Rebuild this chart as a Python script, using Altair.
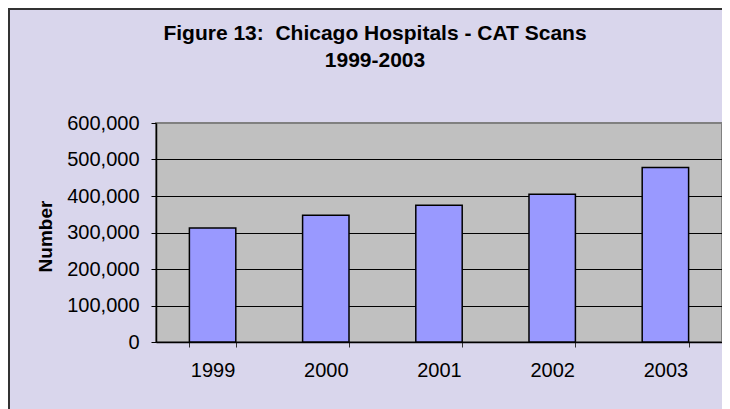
import altair as alt
import pandas as pd

years = ["1999", "2000", "2001", "2002", "2003"]
scans = [312000, 347000, 375000, 405000, 478000]
y_ticks = [0, 100000, 200000, 300000, 400000, 500000, 600000]
title_lines = ["Figure 13:\u00a0 Chicago Hospitals - CAT Scans", "1999-2003"]
y_title = "Number"

df = pd.DataFrame({"Year": years, "Scans": scans})

FONT = "Liberation Sans"
W, H = 566, 219
PAD = {"left": 148, "top": 115, "right": 0, "bottom": 67}

frame_left = alt.Chart(alt.Data(values=[{}])).mark_rule(
    color="#333333", strokeWidth=2
).encode(x=alt.value(-147), y=alt.value(-114), y2=alt.value(H + PAD["bottom"]))

frame_top = alt.Chart(alt.Data(values=[{}])).mark_rule(
    color="#333333", strokeWidth=2
).encode(y=alt.value(-114), x=alt.value(-148), x2=alt.value(W + PAD["right"]))

bars = alt.Chart(df).mark_bar(
    color="#9999FF", stroke="#000000", strokeWidth=1.5
).encode(
    x=alt.X("Year:N", sort=years, title=None,
            scale=alt.Scale(paddingInner=0.59, paddingOuter=0.295),
            axis=alt.Axis(labelAngle=0, tickBand="extent", tickSize=5,
                          tickColor="#333333", domainColor="#000000",
                          domainWidth=1.5, labelPadding=13,
                          labelFont=FONT, labelFontSize=20,
                          labelColor="#000000", grid=False)),
    y=alt.Y("Scans:Q", title=y_title,
            scale=alt.Scale(domain=[0, 600000], nice=False),
            axis=alt.Axis(values=y_ticks, format=",d", tickSize=5,
                          tickColor="#000000", domainColor="#000000",
                          domainWidth=1.5, labelPadding=12,
                          labelFont=FONT, labelFontSize=20,
                          labelColor="#000000",
                          gridColor={"condition": {"test": "datum.value === 600000", "value": "#808080"},
                                     "value": "#000000"},
                          gridWidth=1,
                          titleFont=FONT, titleFontSize=19, titleFontWeight="bold",
                          titleColor="#000000", titleAngle=-90,
                          titleAlign="center", titleBaseline="middle",
                          titleX=-111, titleY=113)),
)

chart = alt.layer(frame_left, frame_top, bars).properties(
    width=W, height=H,
    autosize=alt.AutoSizeParams(type="none"),
    padding=PAD,
    background="#D9D6EC",
    title=alt.Title(title_lines, font=FONT, fontSize=21, fontWeight="bold",
                    color="#000000", anchor="middle", frame="group",
                    dx=-64, offset=-63, lineHeight=27),
).configure_view(
    fill="#C0C0C0", stroke="#808080", strokeWidth=2
)

chart.save("out.html", embed_options={"renderer": "svg", "actions": False})
